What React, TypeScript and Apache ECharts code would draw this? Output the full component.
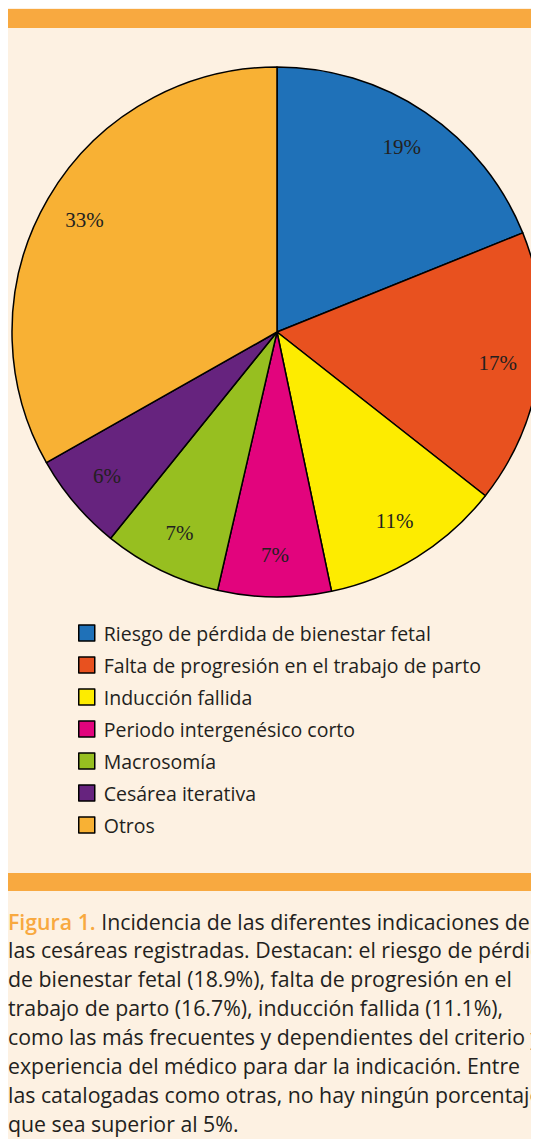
import React, { useEffect, useRef } from "react";
import * as echarts from "echarts";

const categories = [
  "Riesgo de pérdida de bienestar fetal",
  "Falta de progresión en el trabajo de parto",
  "Inducción fallida",
  "Periodo intergenésico corto",
  "Macrosomía",
  "Cesárea iterativa",
  "Otros",
];
const values = [18.9, 16.7, 11.1, 6.9, 7.2, 6.0, 33.2];

const captionLines = [
  "las cesáreas registradas. Destacan: el riesgo de pérdida",
  "de bienestar fetal (18.9%), falta de progresión en el",
  "trabajo de parto (16.7%), inducción fallida (11.1%),",
  "como las más frecuentes y dependientes del criterio y",
  "experiencia del médico para dar la indicación. Entre",
  "las catalogadas como otras, no hay ningún porcentaje",
  "que sea superior al 5%.",
];
const captionHead = "Figura 1.";
const captionFirst = " Incidencia de las diferentes indicaciones de";

const COLORS = ["#1f71b8", "#e8511f", "#fdec00", "#e2047d", "#97bf20", "#66237e", "#f8b134"];
const ORANGE = "#f8a940";
const CREAM = "#fdf1e2";
const FONT = "'Open Sans'";

export default function App() {
  const ref = useRef<HTMLDivElement>(null);
  useEffect(() => {
    const chart = echarts.init(ref.current!, null, { renderer: "svg" });
    const cx = 269;
    const cy = 324;
    const R = 265;
    const data = categories.map((n, i) => ({ name: n, value: values[i], itemStyle: { color: COLORS[i] } }));
    const lineTop = 941;
    const lineStep = 29;
    const fs = 21.3;
    const graphics: any[] = [
      { type: "rect", shape: { x: 0, y: 0, width: 531, height: 1131 }, style: { fill: CREAM }, z: -10 },
      { type: "rect", shape: { x: 0, y: 1, width: 531, height: 19 }, style: { fill: ORANGE }, z: -9 },
      { type: "rect", shape: { x: 0, y: 865, width: 531, height: 18 }, style: { fill: ORANGE }, z: -9 },
      {
        type: "text",
        x: 0,
        y: 913,
        style: {
          text: "{h|" + captionHead + "}{b|" + captionFirst + "}",
          verticalAlign: "middle",
          rich: {
            h: { fill: ORANGE, fontSize: fs, fontFamily: FONT, fontWeight: 600 },
            b: { fill: "#231f20", fontSize: fs, fontFamily: FONT },
          },
        },
      },
      ...captionLines.map((t, i) => ({
        type: "text",
        x: 0,
        y: lineTop + i * lineStep,
        style: { text: t, fill: "#231f20", fontSize: fs, fontFamily: FONT, verticalAlign: "middle" },
      })),
    ];
    chart.setOption({
      animation: false,
      legend: {
        orient: "vertical",
        left: 70,
        top: 615,
        padding: 0,
        data: categories,
        icon: "rect",
        itemWidth: 16,
        itemHeight: 16,
        itemGap: 12,
        selectedMode: false,
        itemStyle: { borderColor: "#000", borderWidth: 1.5 },
        textStyle: { fontSize: 19.5, lineHeight: 20, fontFamily: FONT, color: "#231f20", padding: [0, 0, 0, 4] },
      },
      graphic: graphics,
      series: [
        {
          type: "pie",
          center: [cx, cy],
          radius: [0, R],
          startAngle: 90,
          clockwise: true,
          silent: true,
          label: { show: false },
          labelLine: { show: false },
          itemStyle: { borderColor: "#000", borderWidth: 1.5 },
          data,
        },
        {
          type: "pie",
          center: [cx, cy],
          radius: [R * 0.66, R],
          startAngle: 90,
          clockwise: true,
          silent: true,
          itemStyle: { color: "transparent", borderWidth: 0 },
          label: {
            show: true,
            position: "inside",
            formatter: (p: any) => Math.round(p.value) + "%",
            fontSize: 21,
            fontFamily: "Liberation Serif",
            color: "#231f20",
          },
          labelLine: { show: false },
          data: categories.map((n, i) => ({ name: n, value: values[i] })),
        },
      ],
    });
    return () => chart.dispose();
  }, []);
  return <div ref={ref} style={{ width: 531, height: 1131 }} />;
}
